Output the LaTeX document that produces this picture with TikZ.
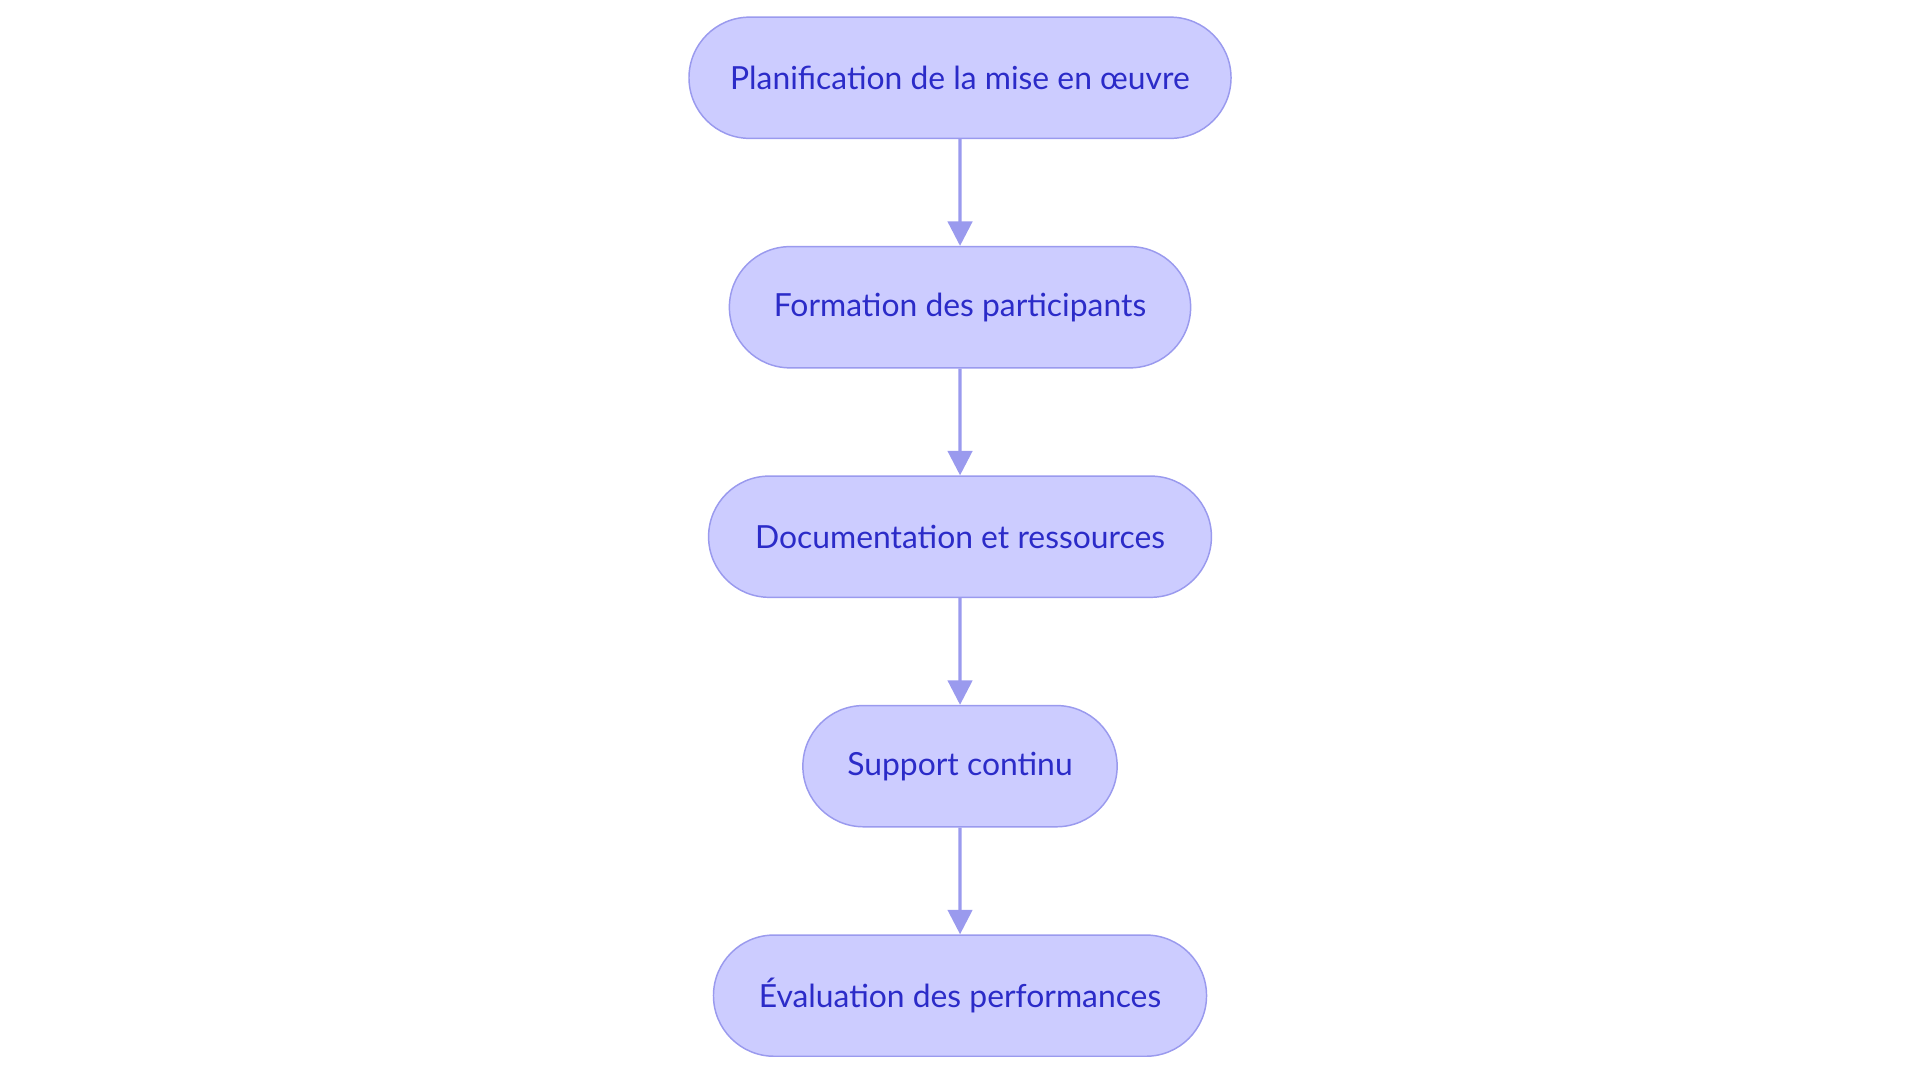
\documentclass[tikz,border=0pt]{standalone}
\usepackage{fontspec}
\setmainfont{Lato}
\usetikzlibrary{positioning,shapes.misc,arrows.meta}
\definecolor{boxfill}{HTML}{CCCCFF}
\definecolor{boxline}{HTML}{9A9AEE}
\definecolor{boxtext}{HTML}{2B2BC8}

\begin{document}
\begin{tikzpicture}
[x=0.5pt, y=-0.5pt, node distance=43.6pt,
 stage/.style={rounded rectangle, draw=boxline, fill=boxfill, text=boxtext,
   minimum height=49.5pt, font=\fontsize{13}{15}\selectfont, line width=0.6pt},
 flow/.style={draw=boxline, line width=1.3pt, -{Triangle[length=10pt,width=10pt]}}]

\useasboundingbox (0,0) rectangle (1568,884);

% Steps:
\node[stage, minimum width=228pt] (plan) at (784,63.5) {Planification de la mise en œuvre};
\node[stage, minimum width=195pt, below=of plan] (form) {Formation des participants};
\node[stage, minimum width=212pt, below=of form] (doc)  {Documentation et ressources};
\node[stage, minimum width=135pt, below=of doc]  (supp) {Support continu};
\node[stage, minimum width=208pt, below=of supp] (eval) {Évaluation des performances};

% Arrows:
\draw[flow] (plan) -- (form);
\draw[flow] (form) -- (doc);
\draw[flow] (doc)  -- (supp);
\draw[flow] (supp) -- (eval);

\end{tikzpicture}
\end{document}
